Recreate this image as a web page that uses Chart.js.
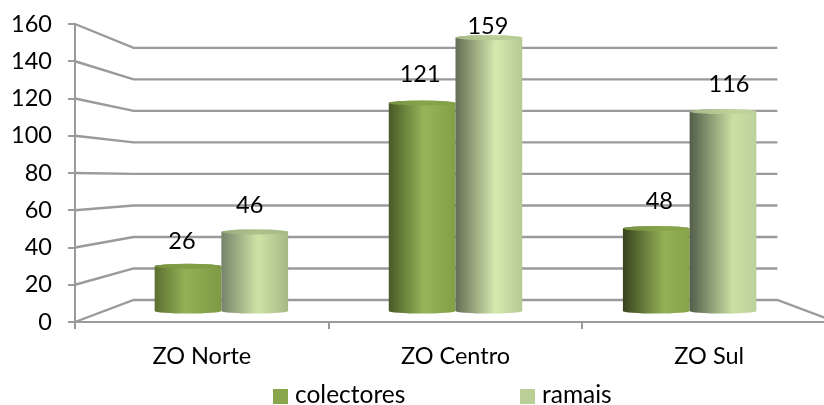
<!DOCTYPE html>
<html>
<head>
<meta charset="utf-8">
<title>Colectores e ramais por zona</title>
<script src="https://cdn.jsdelivr.net/npm/chart.js@4"></script>
<style>
  html, body { margin: 0; padding: 0; background: #fff; overflow: hidden; }
  /* the floor of the 3D box runs off the right side of the page */
  #wrap { position: relative; width: 836px; height: 405px; }
</style>
</head>
<body>
<div id="wrap"><canvas id="chart-1"></canvas></div>
<script>
const categories = ["ZO Norte", "ZO Centro", "ZO Sul"];
const colectores = [26, 121, 48];
const ramais = [46, 159, 116];

const FONT = "Lato";
const FONT_SIZE = 23.5;
const LEGEND_SIZE = 24.5;
const INK = "#000";
const WALL = "#9a9a9a";

// perspective of the box: back wall is 84.6% of the front, vanishing at (455, 179)
const SHRINK = 0.154;
const VANISH_Y = 179;
const BAR_DEPTH = 0.5;

function project(chart, x, y, depth) {
  const cx = (chart.chartArea.left + chart.chartArea.right) / 2;
  const s = SHRINK * depth;
  return { x: x + (cx - x) * s, y: y + (VANISH_Y - y) * s };
}

// dark edge, highlight and far edge of each cylinder, per category
const colectoresShade = [
  ["#5b7030", "#93b155", "#7e9a44", 0.46],
  ["#465a26", "#97b458", "#82a047", 0.52],
  ["#36441e", "#95b157", "#86a34a", 0.62],
];
const ramaisShade = [
  ["#76836a", "#cfe2a6", "#a5b985", 0.55],
  ["#626e55", "#d6e9ae", "#b5ca94", 0.6],
  ["#525e49", "#cbdfa3", "#bcd09a", 0.65],
];

// value labels sit a little off their cylinders
const labelDx = [[-6, -2, 3], [-5, -1, 6]];
const labelDy = [[-25, -29, -27], [-26, -11, -27]];

function drawCylinder(ctx, x, top, base, halfW, shade) {
  const ry = 2.5;
  const g = ctx.createLinearGradient(x - halfW, 0, x + halfW, 0);
  g.addColorStop(0, shade[0]);
  g.addColorStop(shade[3], shade[1]);
  g.addColorStop(1, shade[2]);
  ctx.fillStyle = g;
  ctx.beginPath();
  ctx.moveTo(x - halfW, top);
  ctx.lineTo(x - halfW, base);
  ctx.ellipse(x, base, halfW, ry, 0, Math.PI, 0, true);
  ctx.lineTo(x + halfW, top);
  ctx.ellipse(x, top, halfW, ry, 0, 0, Math.PI, true);
  ctx.closePath();
  ctx.fill();
  // cap
  ctx.globalAlpha = 0.8;
  ctx.fillStyle = shade[2];
  ctx.beginPath();
  ctx.ellipse(x, top, halfW, ry, 0, 0, Math.PI * 2);
  ctx.fill();
  ctx.globalAlpha = 1;
}

const box3d = {
  id: "box3d",
  // back wall, floor and the lines joining them to the value axis
  beforeDatasetsDraw(chart) {
    const { ctx, chartArea: area, scales: { y } } = chart;
    ctx.save();
    ctx.strokeStyle = WALL;
    ctx.lineWidth = 2.4;
    y.ticks.forEach((t) => {
      const front = y.getPixelForValue(t.value);
      const a = project(chart, area.left, front, 1);
      const b = project(chart, area.right, front, 1);
      ctx.beginPath();
      ctx.moveTo(area.left, front);
      ctx.lineTo(a.x, a.y);
      ctx.lineTo(b.x, b.y);
      if (t.value === 0) ctx.lineTo(area.right, front);
      ctx.stroke();
    });

    // cylinders, first series behind the second
    [colectoresShade, ramaisShade].forEach((shades, d) => {
      const meta = chart.getDatasetMeta(d);
      meta.data.forEach((bar, i) => {
        const p = project(chart, bar.x, bar.y, BAR_DEPTH);
        const b = project(chart, bar.x, bar.base, BAR_DEPTH);
        const edge = project(chart, bar.x + bar.width / 2, bar.y, BAR_DEPTH);
        drawCylinder(ctx, p.x, p.y, b.y + 1, edge.x - p.x, shades[i]);
      });
    });
    ctx.restore();
  },
  // the bars themselves are replaced by the cylinders above
  beforeDatasetDraw() {
    return false;
  },
  afterDatasetsDraw(chart) {
    const { ctx } = chart;
    ctx.save();
    ctx.font = FONT_SIZE + "px " + FONT;
    ctx.fillStyle = INK;
    ctx.textAlign = "center";
    ctx.textBaseline = "middle";
    chart.data.datasets.forEach((ds, d) => {
      chart.getDatasetMeta(d).data.forEach((bar, i) => {
        const p = project(chart, bar.x, bar.y, BAR_DEPTH);
        ctx.fillText(ds.data[i], p.x + labelDx[d][i], p.y + labelDy[d][i]);
      });
    });

    // legend, spread wider than the built-in one allows
    const legendX = [273, 520];
    ctx.font = LEGEND_SIZE + "px " + FONT;
    chart.data.datasets.forEach((ds, d) => {
      ctx.fillStyle = ds.backgroundColor;
      ctx.fillRect(legendX[d], 389, 15, 15);
      ctx.fillStyle = INK;
      ctx.textAlign = "left";
      ctx.fillText(ds.label, legendX[d] + 22, 395);
    });
    ctx.restore();
  },
};

const ctx1 = document.getElementById("chart-1").getContext("2d");
const myChart = new Chart(ctx1, {
  type: "bar",
  data: {
    labels: categories,
    datasets: [
      { label: "colectores", data: colectores, backgroundColor: "#8aa64c" },
      { label: "ramais", data: ramais, backgroundColor: "#b9cf96" },
    ],
  },
  options: {
    responsive: true,
    maintainAspectRatio: false,
    animation: false,
    layout: { padding: { top: 24, left: 0, right: 0, bottom: 0 } },
    datasets: { bar: { barPercentage: 1, categoryPercentage: 0.57 } },
    plugins: { legend: { display: false }, tooltip: { enabled: false } },
    scales: {
      x: {
        afterFit(scale) { scale.height = 83; scale.paddingRight = 0; scale.paddingLeft = 0; },
        border: { color: WALL, width: 2 },
        grid: { drawOnChartArea: false, color: WALL, lineWidth: 2, tickLength: 7 },
        ticks: { color: INK, font: { family: FONT, size: FONT_SIZE }, padding: 13, maxRotation: 0 },
      },
      y: {
        min: 0,
        max: 160,
        afterFit(scale) { scale.width = 75; scale.paddingTop = 0; scale.paddingBottom = 0; },
        border: { color: WALL, width: 2 },
        grid: { drawOnChartArea: false, color: WALL, lineWidth: 2, tickLength: 7 },
        ticks: { stepSize: 20, color: INK, font: { family: FONT, size: FONT_SIZE }, padding: 16 },
      },
    },
  },
  plugins: [box3d],
});
</script>
</body>
</html>
